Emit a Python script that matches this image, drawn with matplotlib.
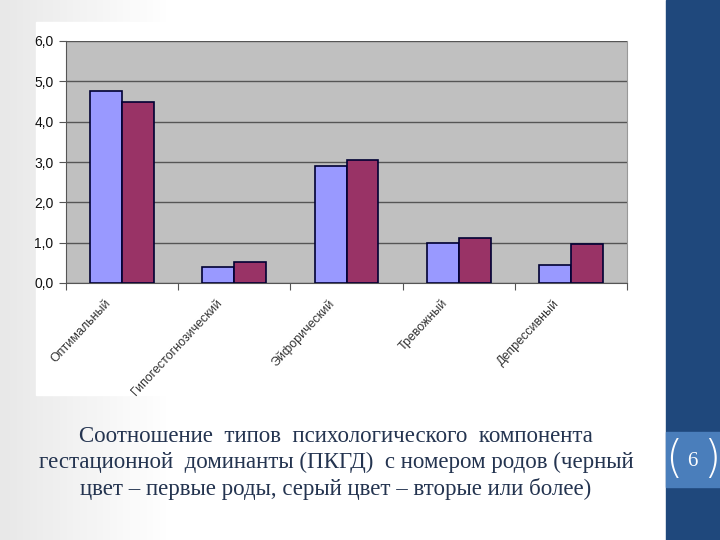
import numpy as np
import matplotlib
matplotlib.use('Agg')
import matplotlib.pyplot as plt
import matplotlib.transforms as mtransforms
from matplotlib.patches import Rectangle
from matplotlib.ticker import FuncFormatter

categories = ['Оптимальный', 'Гипогестогнозический', 'Эйфорический', 'Тревожный', 'Депрессивный']
first_birth = [4.77, 0.40, 2.90, 0.99, 0.45]
second_birth = [4.49, 0.52, 3.05, 1.12, 0.97]
y_ticks = [0, 1, 2, 3, 4, 5, 6]

caption = ('Соотношение  типов  психологического  компонента\n'
           'гестационной  доминанты (ПКГД)  с номером родов (черный\n'
           'цвет – первые роды, серый цвет – вторые или более)')

W, H = 720, 540
fig = plt.figure(figsize=(7.2, 5.4), dpi=100)
fig.patch.set_facecolor('#ffffff')

# slide background: soft gray gradient at left, blue band on the right
bg = fig.add_axes([0, 0, 1, 1], zorder=-10)
bg.set_xlim(0, W)
bg.set_ylim(H, 0)
bg.axis('off')
grad = np.clip(np.linspace(0, 1, 200) * 4, 0, 1)
img = np.ones((10, 200, 3))
shade = 0.91 + 0.09 * grad
for c in range(3):
    img[:, :, c] = shade
bg.imshow(img, extent=[0, 666, H, 0], aspect='auto')
bg.add_patch(Rectangle((666, 0), 54, H, color='#1f487c'))
bg.add_patch(Rectangle((666, 432), 54, 55, color='#4a7ebb'))
bg.text(692, 461, '6', color='white', fontsize=15, family='Liberation Serif',
        ha='center', va='center')
bg.text(674, 460, '(', color='white', fontsize=32, family='DejaVu Sans',
        ha='center', va='center', fontweight='ultralight')
bg.text(712, 460, ')', color='white', fontsize=32, family='DejaVu Sans',
        ha='center', va='center', fontweight='ultralight')
# white chart area
bg.add_patch(Rectangle((36, 22), 596, 373, color='white'))

bg.text(336, 463, caption, ha='center', va='center', fontsize=16.5,
        family='Liberation Serif', color='#243450', linespacing=1.3)

# chart
ax = fig.add_axes([66 / W, 1 - 283 / H, (627 - 66) / W, (283 - 41) / H])
ax.set_facecolor('#c0c0c0')
x = np.arange(len(categories))
w = 0.285
ax.bar(x - w / 2, first_birth, w, color='#9999ff', edgecolor='#000033', linewidth=1.2, zorder=3)
ax.bar(x + w / 2, second_birth, w, color='#993366', edgecolor='#000033', linewidth=1.2, zorder=3)

ax.set_xlim(-0.5, len(categories) - 0.5)
ax.set_ylim(0, 6)
ax.set_yticks(y_ticks)
ax.yaxis.set_major_formatter(FuncFormatter(lambda v, p: f'{v:.1f}'.replace('.', ',')))
ax.grid(axis='y', color='#555555', linewidth=1, zorder=0)
ax.set_xticks(np.arange(len(categories) + 1) - 0.5)
ax.set_xticklabels([])

# rotated category labels, placed by hand below each group
lab_tr = mtransforms.blended_transform_factory(ax.transData, ax.transAxes) + \
    mtransforms.ScaledTranslation(-18 / 100, -14 / 100, fig.dpi_scale_trans)
for xi, name in zip(x, categories):
    ax.text(xi, 0, name, transform=lab_tr, rotation=47, ha='right', va='top',
            rotation_mode='anchor', fontsize=9, color='#333333',
            family='Liberation Sans', clip_on=False)

ax.tick_params(axis='x', which='major', length=5, direction='out', color='#555555')
ax.tick_params(axis='y', length=5, direction='out', color='#555555', labelsize=10,
               labelcolor='#111111', pad=4)
for lb in ax.get_yticklabels():
    lb.set_family('Liberation Sans')
ax.spines['top'].set_visible(False)
for s in ['left', 'bottom']:
    ax.spines[s].set_color('#555555')
ax.spines['right'].set_color('#999999')

fig.savefig('out.png', dpi=100)
